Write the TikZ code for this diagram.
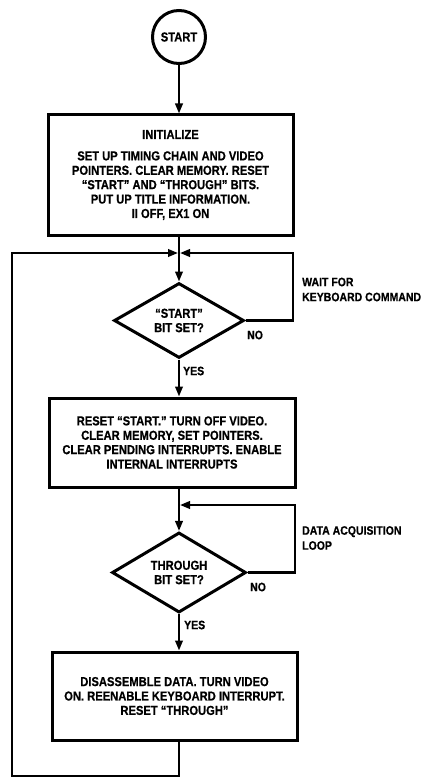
\documentclass[tikz,border=0pt]{standalone}
\usepackage{fontspec}
\setmainfont{Liberation Sans}[FakeStretch=0.86, BoldFeatures={FakeBold=0.6}]
\usetikzlibrary{shapes.geometric,arrows.meta}
\tikzset{
  boxnode/.style={draw, line width=3pt, align=center, inner sep=0pt},
  dianode/.style={draw, diamond, line width=3pt, align=center, inner sep=0pt},
  conn/.style={line width=2.2pt},
  arr/.style={conn, -{Triangle[length=10pt,width=7.5pt]}},
  lbl/.style={align=left, anchor=west, inner sep=0pt, font=\bfseries\fontsize{12.2}{15}\selectfont}
}
\begin{document}
\begin{tikzpicture}[x=1pt,y=-1pt, font=\bfseries\fontsize{13}{14.4}\selectfont]
\useasboundingbox (0,0) rectangle (427,778);
\node[circle, draw, line width=3pt, minimum size=53pt, inner sep=0pt] (start) at (179,37) {START};
\node[boxnode, minimum width=245pt, minimum height=120pt] (init) at (170.5,175)
  {INITIALIZE\\[7pt]SET UP TIMING CHAIN AND VIDEO\\POINTERS. CLEAR MEMORY. RESET\\“START” AND “THROUGH” BITS.\\PUT UP TITLE INFORMATION.\\II OFF, EX1 ON};
\coordinate (m1) at (179,253);
\coordinate (r1) at (293,253);
\node[dianode, minimum width=130pt, minimum height=75pt] (d1) at (179,320.5) {“START”\\BIT SET?};
\node[boxnode, minimum width=246pt, minimum height=89pt] (b2) at (172,442.5)
  {RESET “START.” TURN OFF VIDEO.\\CLEAR MEMORY, SET POINTERS.\\CLEAR PENDING INTERRUPTS. ENABLE\\INTERNAL INTERRUPTS};
\coordinate (m2) at (179,505);
\coordinate (r2) at (295,505);
\node[dianode, minimum width=134pt, minimum height=79pt] (d2) at (179,572.5) {THROUGH\\BIT SET?};
\node[boxnode, minimum width=245pt, minimum height=88pt] (b3) at (174.5,696)
  {DISASSEMBLE DATA. TURN VIDEO\\ON. REENABLE KEYBOARD INTERRUPT.\\RESET “THROUGH”};
\coordinate (bl) at (12,776);

\draw[arr] (start.south) -- (start.south |- init.north);
\draw[arr] (m1 |- init.south) -- (d1.north);
\draw[arr] (d1.east) -| (r1) -- ([xshift=1pt]m1);
\draw[arr] (d1.south) -- (d1.south |- b2.north);
\draw[arr] (m2 |- b2.south) -- (d2.north);
\draw[arr] (d2.east) -| (r2) -- ([xshift=1pt]m2);
\draw[arr] (d2.south) -- (d2.south |- b3.north);
\draw[arr] (m2 |- b3.south) |- (bl) |- ([xshift=-1pt]m1);

\node[lbl] (wait) at (302,289.5) {WAIT FOR\\KEYBOARD COMMAND};
\node[lbl] (no1) at (247,335) {NO};
\node[lbl] (yes1) at (183,371) {YES};
\node[lbl] (daq) at (302,538) {DATA ACQUISITION\\LOOP};
\node[lbl] (no2) at (250,587) {NO};
\node[lbl] (yes2) at (184,625) {YES};
\end{tikzpicture}
\end{document}
